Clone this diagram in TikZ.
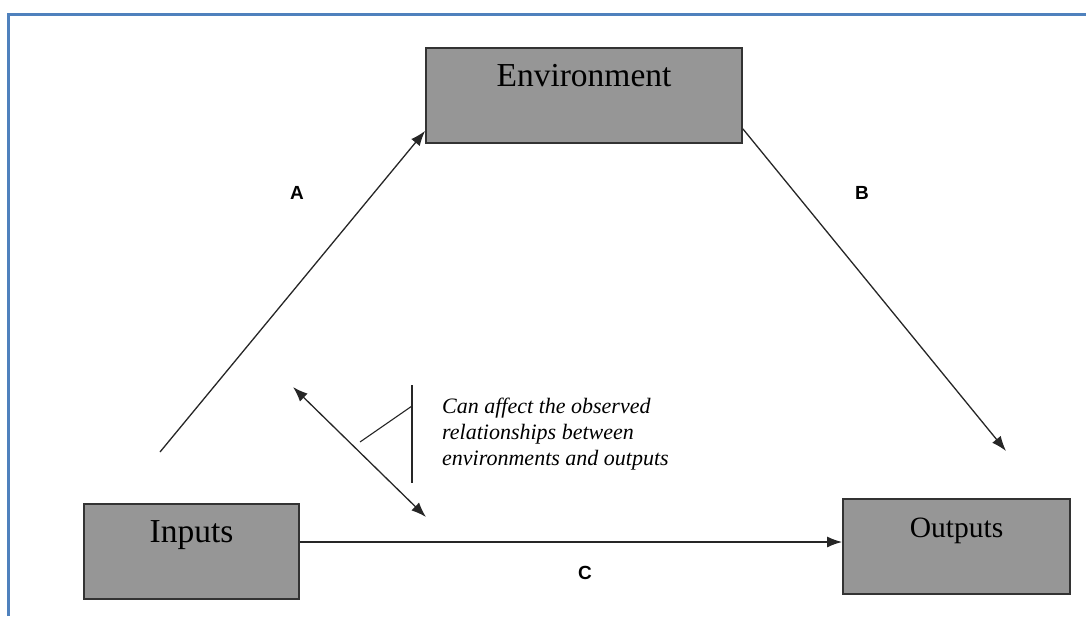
\documentclass[tikz,border=0pt]{standalone}
\usepackage{fontspec}
\setmainfont{Liberation Serif}
\setsansfont{Liberation Sans}
\usetikzlibrary{arrows.meta}

\definecolor{boxgray}{HTML}{969696}
\definecolor{boxline}{HTML}{333333}
\definecolor{frameblue}{HTML}{4F81BD}

\begin{document}
\begin{tikzpicture}[x=1pt, y=-1pt,
  block/.style={draw=boxline, fill=boxgray, line width=1.8pt, inner xsep=0pt,
    inner ysep=0pt, text height=38pt, text depth=57pt,
    font=\fontsize{33.5}{38}\selectfont},
  link/.style={line width=1.3pt, black!85, -{Latex[length=15pt, width=11pt]}},
  tag/.style={font=\sffamily\bfseries\fontsize{19}{22}\selectfont}]

\useasboundingbox (0,0) rectangle (1086,616);

% Frame (left and top edge only)
\draw[frameblue, line width=2.5pt] (8.5,616) -- (8.5,14.5) -- (1086,14.5);

% Boxes
\node[block, minimum width=316pt] (env) at (584,95.5) {Environment};
\node[block, minimum width=215pt] (inputs) at (191.5,551.5) {Inputs};
\node[block, minimum width=227pt, font=\fontsize{29.5}{34}\selectfont] (outputs) at (956.5,546.5) {Outputs};

% Free ends of the links
\coordinate (astart) at (160,452);
\coordinate (bend) at (1006,451);
\coordinate (cstart) at ([yshift=9.5pt]inputs.east);

% Links A, B, C
\draw[link] (astart) -- ([yshift=13pt]env.south west);
\draw[link] ([yshift=15pt]env.south east) -- (bend);
\draw[link] (cstart) -- (cstart -| outputs.west);

\node[tag] (lblA) at (297,193) {A};
\node[tag] (lblB) at (862,193) {B};
\node[tag] (lblC) at (585,573) {C};

% Two-way arrow and its note
\coordinate (dtop) at (293,387);
\coordinate (dbot) at (426,517);
\draw[link, {Latex[length=15pt, width=11pt]}-{Latex[length=15pt, width=11pt]}] (dtop) -- (dbot);

\coordinate (bartop) at (412,385);
\coordinate (barbot) at (412,483);
\coordinate (tickin) at (360,442);
\coordinate (tickout) at (412,406);
\draw[line width=1.1pt, black!85] (bartop) -- (barbot);
\draw[line width=1.1pt, black!85] (tickin) -- (tickout);

\node[anchor=west, align=left, inner sep=0pt,
  font=\itshape\fontsize{22}{26}\selectfont] (note) at (442,434)
  {Can affect the observed\\relationships between\\environments and outputs};

\end{tikzpicture}
\end{document}
